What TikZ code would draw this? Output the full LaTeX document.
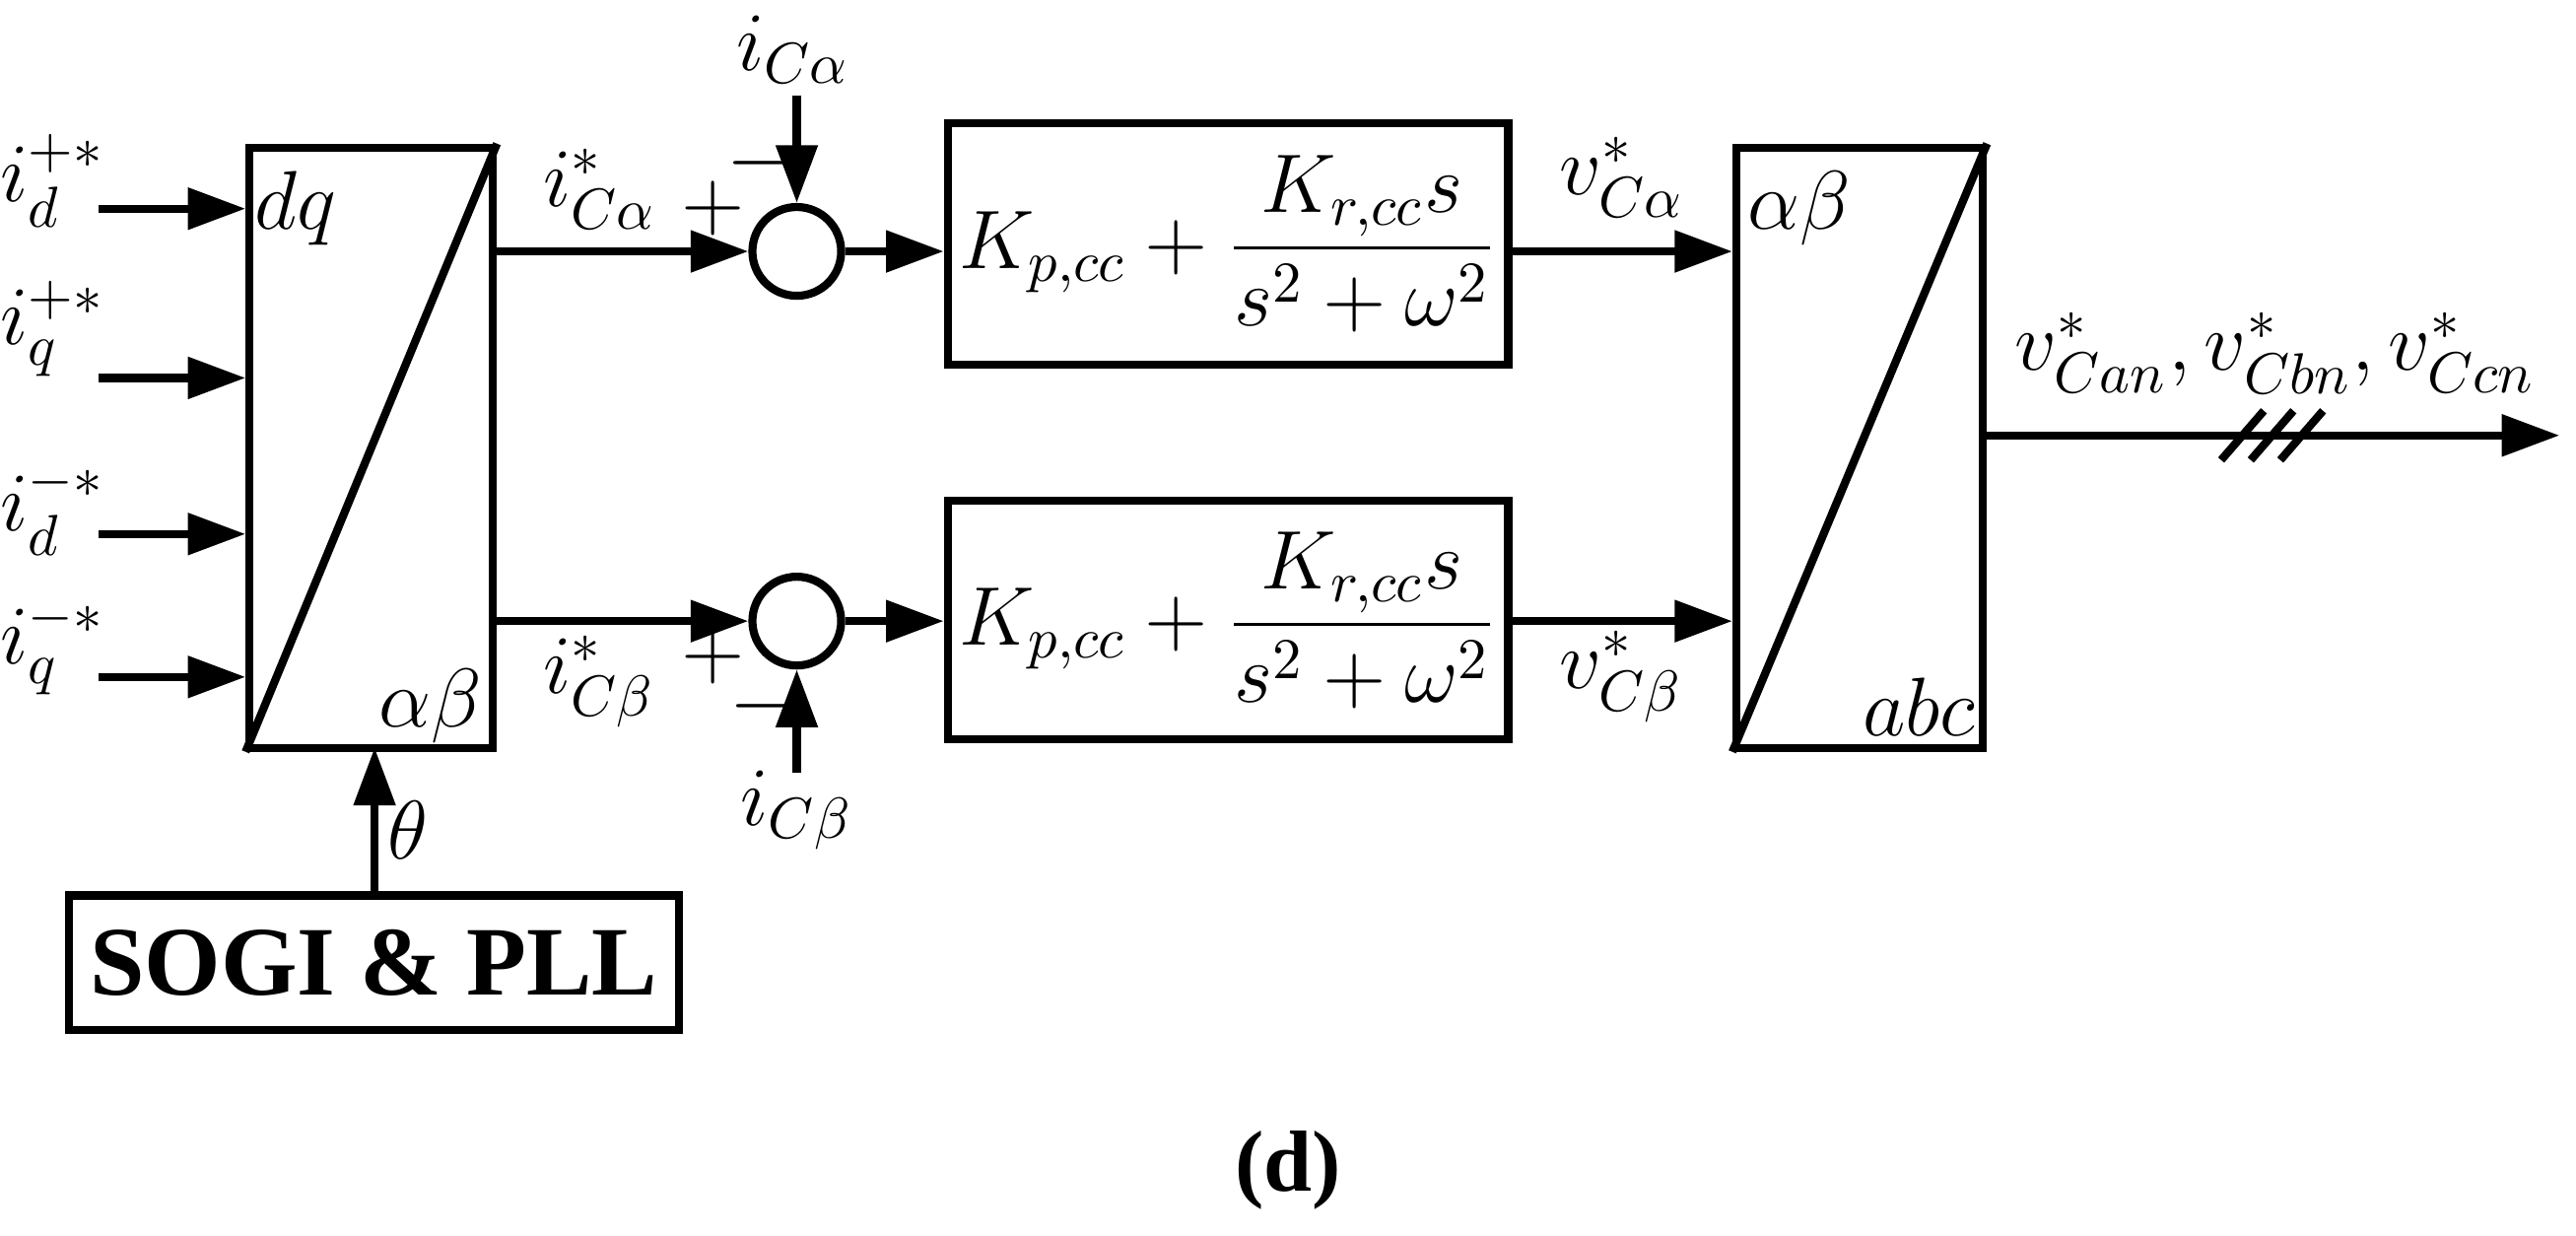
\documentclass[tikz,border=0pt]{standalone}
\usepackage{amsmath}
\usepackage{fontspec}
\setmainfont{Liberation Serif}
\usetikzlibrary{arrows.meta}
\begin{document}
\begin{tikzpicture}[x=0.01cm,y=-0.01cm,
  every node/.style={font=\fontsize{14}{16}\selectfont},
  blk/.style={draw,line width=1.4pt,inner sep=0},
  ar/.style={line width=1.4pt,-{Triangle[length=10pt,width=7pt]}},
  ln/.style={line width=1.4pt},
  sum/.style={draw,circle,line width=1.4pt,minimum size=0.54cm,inner sep=0}]
\useasboundingbox (0,0) rectangle (1568,752);
% left block
\node[blk,minimum width=1.48cm,minimum height=3.65cm] (L) at (226,272.5) {};
\draw[ln] (L.south west) -- (L.north east);
\node at (180,127) {$dq$};
\node at (262,430) {$\alpha\beta$};
% inputs
\coordinate (i1) at (60,127); \coordinate (i2) at (60,230);
\coordinate (i3) at (60,325); \coordinate (i4) at (60,412);
\draw[ar] (i1) -- (i1 -| L.west);
\draw[ar] (i2) -- (i2 -| L.west);
\draw[ar] (i3) -- (i3 -| L.west);
\draw[ar] (i4) -- (i4 -| L.west);
\node at (32,110) {$i_d^{+*}$};
\node at (32,200) {$i_q^{+*}$};
\node at (32,310) {$i_d^{-*}$};
\node at (32,394) {$i_q^{-*}$};
% SOGI
\node[blk,minimum width=3.71cm,minimum height=0.82cm,font=\bfseries\fontsize{17}{20}\selectfont] (S) at (227.5,586) {SOGI \& PLL};
\draw[ar] (S.north -| 228,0) -- (228,455);
\node at (248,505) {$\theta$};
% sums
\node[sum] (s1) at (485,153) {};
\node[sum] (s2) at (485,378) {};
\draw[ar] (300,153) -- (s1.west);
\draw[ar] (300,378) -- (s2.west);
\node at (365,115) {$i_{C\alpha}^{*}$};
\node at (365,415) {$i_{C\beta}^{*}$};
\node at (434,127) {$+$};
\node at (462,99) {$-$};
\node at (434,400) {$+$};
\node at (464,430) {$-$};
\coordinate (a1) at (485,58); \coordinate (b1) at (485,470);
\draw[ar] (a1) -- (s1.north);
\draw[ar] (b1) -- (s2.south);
\node at (483,30) {$i_{C\alpha}$};
\node at (485,493) {$i_{C\beta}$};
% controllers
\node[blk,minimum width=3.41cm,minimum height=1.47cm] (C1) at (747.5,148.5) {$K_{p,cc}+\dfrac{K_{r,cc}s}{s^2+\omega^2}$};
\node[blk,minimum width=3.41cm,minimum height=1.45cm] (C2) at (747.5,377.5) {$K_{p,cc}+\dfrac{K_{r,cc}s}{s^2+\omega^2}$};
\draw[ar] (s1.east) -- (C1.west |- s1);
\draw[ar] (s2.east) -- (C2.west |- s2);
% right block
\node[blk,minimum width=1.5cm,minimum height=3.65cm] (R) at (1132,272.5) {};
\draw[ln] (R.south west) -- (R.north east);
\node at (1095,127) {$\alpha\beta$};
\node at (1168,430) {$abc$};
\draw[ar] (C1.east |- 0,153) -- (R.west |- 0,153);
\draw[ar] (C2.east |- 0,378) -- (R.west |- 0,378);
\node at (987,108) {$v_{C\alpha}^{*}$};
\node at (987,412) {$v_{C\beta}^{*}$};
% output
\coordinate (o) at (1558,265);
\draw[ar] (R.east |- o) -- (o);
\foreach \d in {0,18,36} \draw[ln] (1352+\d,280) -- (1378+\d,250);
\node at (1385,215) {$v_{Can}^{*},v_{Cbn}^{*},v_{Ccn}^{*}$};
\node[font=\bfseries\fontsize{15}{18}\selectfont] at (784,712) {(d)};
\end{tikzpicture}
\end{document}
